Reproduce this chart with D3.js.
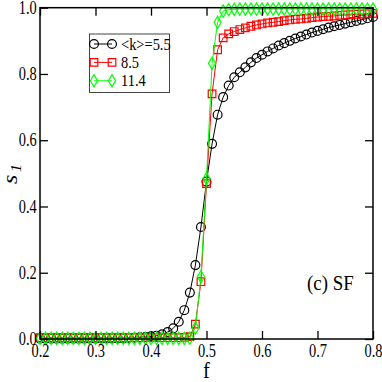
<!DOCTYPE html>
<html>
<head>
<meta charset="utf-8">
<script src="https://cdn.jsdelivr.net/npm/d3@7"></script>
<style>
  body { margin: 0; background: #fff; }
  svg { display: block; }
</style>
</head>
<body>
<svg width="382" height="382"></svg>
<script>
const width = 382;
const height = 382;

// f values (0.20 .. 0.80, step 0.01)
const fValues = [
  0.20, 0.21, 0.22, 0.23, 0.24, 0.25, 0.26, 0.27, 0.28, 0.29,
  0.30, 0.31, 0.32, 0.33, 0.34, 0.35, 0.36, 0.37, 0.38, 0.39,
  0.40, 0.41, 0.42, 0.43, 0.44, 0.45, 0.46, 0.47, 0.48, 0.49,
  0.50, 0.51, 0.52, 0.53, 0.54, 0.55, 0.56, 0.57, 0.58, 0.59,
  0.60, 0.61, 0.62, 0.63, 0.64, 0.65, 0.66, 0.67, 0.68, 0.69,
  0.70, 0.71, 0.72, 0.73, 0.74, 0.75, 0.76, 0.77, 0.78, 0.79,
  0.80
];

// <k>=5.5
const s1k55 = [
  0.001, 0.001, 0.001, 0.001, 0.001, 0.001, 0.001, 0.001, 0.001, 0.001,
  0.001, 0.002, 0.002, 0.002, 0.002, 0.002, 0.003, 0.004, 0.005, 0.006,
  0.008, 0.010, 0.014, 0.021, 0.032, 0.052, 0.087, 0.140, 0.223, 0.338,
  0.475, 0.589, 0.677, 0.730, 0.765, 0.790, 0.805, 0.820, 0.835, 0.848,
  0.858, 0.868, 0.877, 0.886, 0.893, 0.900, 0.907, 0.913, 0.919, 0.925,
  0.930, 0.935, 0.940, 0.944, 0.948, 0.952, 0.956, 0.960, 0.964, 0.968,
  0.972
];

// 8.5
const s1k85 = [
  0.004, 0.004, 0.004, 0.004, 0.004, 0.004, 0.004, 0.004, 0.004, 0.004,
  0.004, 0.004, 0.004, 0.004, 0.004, 0.004, 0.004, 0.004, 0.004, 0.004,
  0.004, 0.004, 0.004, 0.004, 0.004, 0.004, 0.005, 0.007, 0.045, 0.173,
  0.469, 0.740, 0.873, 0.909, 0.921, 0.928, 0.934, 0.939, 0.944, 0.948,
  0.951, 0.954, 0.956, 0.958, 0.961, 0.963, 0.965, 0.966, 0.968, 0.970,
  0.972, 0.973, 0.974, 0.975, 0.977, 0.978, 0.979, 0.980, 0.981, 0.982,
  0.983
];

// 11.4
const s1k114 = [
  0.002, 0.002, 0.002, 0.002, 0.002, 0.002, 0.002, 0.002, 0.002, 0.002,
  0.002, 0.002, 0.002, 0.002, 0.002, 0.002, 0.002, 0.002, 0.002, 0.002,
  0.002, 0.002, 0.002, 0.002, 0.002, 0.002, 0.002, 0.003, 0.033, 0.188,
  0.484, 0.832, 0.956, 0.990, 0.994, 0.995, 0.996, 0.996, 0.996, 0.996,
  0.996, 0.996, 0.996, 0.996, 0.996, 0.996, 0.996, 0.996, 0.996, 0.996,
  0.996, 0.996, 0.996, 0.996, 0.996, 0.996, 0.996, 0.996, 0.996, 0.996,
  0.996
];

const xTicks = [0.2, 0.3, 0.4, 0.5, 0.6, 0.7, 0.8];
const yTicks = [0.0, 0.2, 0.4, 0.6, 0.8, 1.0];
const legendLabels = ["<k>=5.5", "8.5", "11.4"];

const series = [
  { name: legendLabels[0], values: s1k55, color: "#000000", symbol: "circle" },
  { name: legendLabels[1], values: s1k85, color: "#ff0000", symbol: "square" },
  { name: legendLabels[2], values: s1k114, color: "#00ff00", symbol: "diamond" }
];

const serif = "'Liberation Serif'";
const margin = { left: 40, right: 9, top: 7.7, bottom: 43 };
const x = d3.scaleLinear().domain([0.2, 0.8]).range([margin.left, width - margin.right]);
const y = d3.scaleLinear().domain([0, 1]).range([height - margin.bottom, margin.top]);

const svg = d3.select("svg");

// symbol path for a marker centered at 0,0
function markerPath(type) {
  if (type === "circle") return d3.symbol(d3.symbolCircle, 62)();
  if (type === "square") return d3.symbol(d3.symbolSquare, 58)();
  return d3.symbol(d3.symbolDiamond, 44)();
}

// ---------- data ----------
const plot = svg.append("g");
series.forEach(s => {
  const pts = fValues.map((f, i) => [f, s.values[i]]);
  plot.append("path")
    .datum(pts)
    .attr("fill", "none")
    .attr("stroke", s.color)
    .attr("stroke-width", 1)
    .attr("d", d3.line().x(d => x(d[0])).y(d => y(d[1])));

  plot.append("g").selectAll("path")
    .data(pts)
    .enter().append("path")
    .attr("transform", d => `translate(${x(d[0])},${y(d[1])})`)
    .attr("d", markerPath(s.symbol))
    .attr("fill", "none")
    .attr("stroke", s.color)
    .attr("stroke-width", 1.2);
});

// ---------- axes (ticks inward on all sides) ----------
const tickLen = 8;
const xb = d3.axisBottom(x).tickValues(xTicks).tickSize(-tickLen).tickPadding(5).tickFormat(d3.format(".1f"));
const xt = d3.axisTop(x).tickValues(xTicks).tickSize(-tickLen).tickFormat("");
const yl = d3.axisLeft(y).tickValues(yTicks).tickSize(-tickLen).tickPadding(4).tickFormat(d3.format(".1f"));
const yr = d3.axisRight(y).tickValues(yTicks).tickSize(-tickLen).tickFormat("");

// tick labels in the reference are tall and narrow
const axisStyle = g => {
  g.attr("font-family", serif).attr("font-size", 18);
  g.select(".domain").remove();
  g.selectAll("line").attr("stroke", "#000").attr("stroke-width", 1.3);
  g.selectAll("text").attr("fill", "#000").attr("transform", "scale(0.8,1)");
};

svg.append("g").attr("transform", `translate(0,${y(0)})`).call(xb).call(axisStyle);
svg.append("g").attr("transform", `translate(0,${y(1)})`).call(xt).call(axisStyle);
svg.append("g").attr("transform", `translate(${x(0.2)},0)`).call(yl).call(axisStyle);
svg.append("g").attr("transform", `translate(${x(0.8)},0)`).call(yr).call(axisStyle);

// frame
svg.append("rect")
  .attr("x", x(0.2)).attr("y", y(1))
  .attr("width", x(0.8) - x(0.2)).attr("height", y(0) - y(1))
  .attr("fill", "none").attr("stroke", "#000").attr("stroke-width", 1.5);

// axis titles
svg.append("text")
  .attr("transform", `translate(${x(0.5)},378) scale(0.85,1)`)
  .attr("text-anchor", "middle")
  .attr("font-family", serif)
  .attr("font-size", 24)
  .text("f");

const ylab = svg.append("text")
  .attr("transform", "translate(17,174) rotate(-90) scale(1.2,1)")
  .attr("text-anchor", "middle")
  .attr("font-family", serif)
  .attr("font-size", 20)
  .attr("font-style", "italic");
ylab.append("tspan").text("s");
ylab.append("tspan").attr("dy", 4).attr("dx", 2).attr("font-size", 14).text("1");

// panel label
svg.append("text")
  .attr("transform", "translate(307,290) scale(0.9,1)")
  .attr("font-family", serif)
  .attr("font-size", 21)
  .text("(c) SF");

// ---------- legend ----------
const legend = svg.append("g");
legend.append("rect")
  .attr("x", 89.5).attr("y", 34)
  .attr("width", 80).attr("height", 58.5)
  .attr("fill", "#fff")
  .attr("stroke", "#444")
  .attr("stroke-width", 1);

series.forEach((s, i) => {
  const ly = 44 + i * 18.4;
  const row = legend.append("g");
  row.append("line")
    .attr("x1", 94).attr("x2", 112)
    .attr("y1", ly).attr("y2", ly)
    .attr("stroke", s.color).attr("stroke-width", 1);
  [94, 112].forEach(cx => {
    row.append("path")
      .attr("transform", `translate(${cx},${ly})`)
      .attr("d", markerPath(s.symbol))
      .attr("fill", "none")
      .attr("stroke", s.color)
      .attr("stroke-width", 1.2);
  });
  row.append("text")
    .attr("transform", `translate(121,${ly + 5.5}) scale(0.85,1)`)
    .attr("font-family", serif)
    .attr("font-size", 17)
    .text(s.name);
});
</script>
</body>
</html>
